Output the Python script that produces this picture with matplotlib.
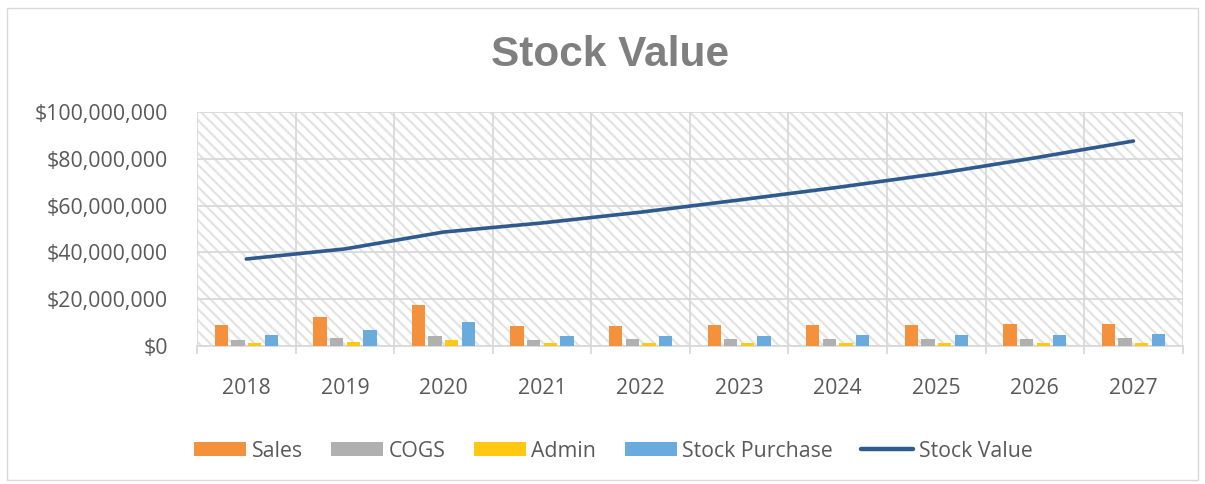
import numpy as np
import matplotlib.pyplot as plt
from matplotlib.patches import Rectangle, Patch
from matplotlib.lines import Line2D
from matplotlib.ticker import FuncFormatter, MultipleLocator

# =====================
# Data
# =====================
years = ['2018', '2019', '2020', '2021', '2022', '2023', '2024', '2025', '2026', '2027']
sales = [8.9, 12.5, 17.4, 8.4, 8.6, 8.8, 8.9, 9.0, 9.3, 9.4]
cogs = [2.8, 3.4, 4.3, 2.8, 2.9, 3.0, 3.0, 3.1, 3.2, 3.3]
admin = [1.1, 1.6, 2.5, 1.1, 1.1, 1.1, 1.2, 1.2, 1.2, 1.2]
stock_purchase = [4.6, 6.9, 10.3, 4.3, 4.4, 4.5, 4.6, 4.8, 4.9, 5.0]
stock_value = [37.2, 41.5, 48.7, 52.6, 57.2, 62.4, 67.8, 73.6, 80.4, 87.6]

scale = 1e6
colors = {
    'Sales': '#F4913C',
    'COGS': '#B0B0B0',
    'Admin': '#FFC913',
    'Stock Purchase': '#6AABDD',
    'Stock Value': '#2F5A8E',
}
text_color = '#595959'
grid_color = '#D9D9D9'

plt.rcParams['font.family'] = ['Open Sans', 'DejaVu Sans']
plt.rcParams['hatch.linewidth'] = 1.6

fig = plt.figure(figsize=(12.05, 4.84), dpi=100)
fig.patches.append(Rectangle((0.006, 0.008), 0.988, 0.975, transform=fig.transFigure,
                             fill=False, edgecolor='#D9D9D9', linewidth=1))

ax = fig.add_axes([0.1635, 0.285, 0.818, 0.4836])

# hatched plot-area background
ax.add_patch(Rectangle((0, 0), 1, 1, transform=ax.transAxes, facecolor='white',
                       edgecolor='#E3E3E3', hatch='\\\\\\', linewidth=0, zorder=0))

x = np.arange(len(years))
step = 0.169
width = 0.135
series = [('Sales', sales), ('COGS', cogs), ('Admin', admin), ('Stock Purchase', stock_purchase)]
for i, (name, vals) in enumerate(series):
    ax.bar(x + (i - 1.5) * step, np.array(vals) * scale, width=width,
           color=colors[name], zorder=3)

ax.plot(x, np.array(stock_value) * scale, color=colors['Stock Value'], linewidth=2.6,
        solid_capstyle='round', zorder=4)

ax.set_xlim(-0.5, len(years) - 0.5)
ax.set_ylim(0, 100e6)
ax.yaxis.set_major_locator(MultipleLocator(20e6))
ax.yaxis.set_major_formatter(FuncFormatter(lambda v, p: f'${v:,.0f}'))

# category boundary gridlines
for b in np.arange(-0.5, len(years), 1.0):
    ax.axvline(b, color=grid_color, linewidth=1.3, zorder=1)
ax.grid(axis='y', color=grid_color, linewidth=1.3, zorder=1)
ax.set_axisbelow(True)

ax.set_xticks(x)
ax.set_xticklabels(years)
ax.set_xticks(np.arange(-0.5, len(years), 1.0), minor=True)
ax.tick_params(axis='x', which='major', length=0, pad=23, labelsize=15.3, labelcolor=text_color)
ax.tick_params(axis='x', which='minor', length=6, width=1.3, color=grid_color)
ax.tick_params(axis='y', length=0, pad=21, labelsize=15.3, labelcolor=text_color)

for s in ['top', 'right', 'left']:
    ax.spines[s].set_visible(False)
ax.spines['bottom'].set_color(grid_color)
ax.spines['bottom'].set_linewidth(1.3)

fig.text(0.5065, 1 - 55 / 484, 'Stock Value', ha='center', va='center', fontsize=30.5,
         fontweight='bold', color='#7F7F7F', family=['Liberation Sans', 'DejaVu Sans'])

handles = [Patch(facecolor=colors[n]) for n, _ in series]
handles.append(Line2D([0], [0], color=colors['Stock Value'], linewidth=3.2,
                      solid_capstyle='round'))
labels = [n for n, _ in series] + ['Stock Value']
fig.legend(handles, labels, loc='center', bbox_to_anchor=(0.509, 0.068), ncol=5,
           frameon=False, fontsize=15.3, labelcolor=text_color, handlelength=2.45,
           handleheight=0.62, handletextpad=0.24, columnspacing=1.35)

fig.savefig('out.png', dpi=100)
